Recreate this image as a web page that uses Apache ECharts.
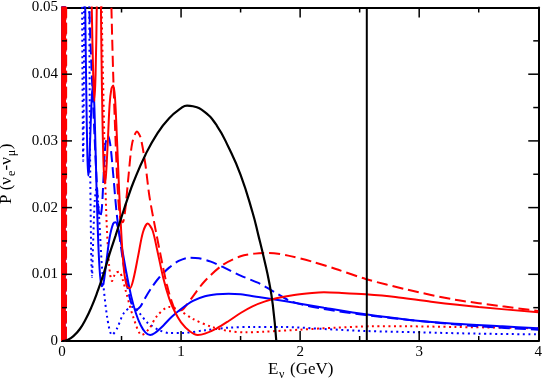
<!DOCTYPE html>
<html>
<head>
<meta charset="utf-8">
<script src="https://cdn.jsdelivr.net/npm/echarts@6/dist/echarts.min.js"></script>
<style>
  html, body { margin: 0; padding: 0; background: #fff; }
  #chart { width: 545px; height: 382px; }
</style>
</head>
<body>
<div id="chart"></div>
<script>
// [E (GeV), P] pairs; values above 0.05 are clipped by the grid
var flux = [[0,0],[0.05,0.0002],[0.1,0.0008],[0.15,0.0018],[0.2,0.0033],[0.25,0.0052],[0.3,0.0075],
  [0.35,0.0101],[0.4,0.0131],[0.45,0.0158],[0.5,0.0186],[0.55,0.0213],[0.6,0.0238],[0.7,0.0279],
  [0.8,0.0311],[0.9,0.0334],[1.0,0.0349],[1.05,0.0353],[1.1,0.0352],[1.2,0.0343],[1.3,0.0323],
  [1.4,0.029],[1.5,0.0249],[1.6,0.0193],[1.65,0.0158],[1.7,0.0121],[1.74,0.0088],[1.77,0.0055],[1.8,0]];

var cutLine = [[2.56,0],[2.56,0.05]];

var blueSolid = [[0,0],[0.005,0.12],[0.009,0],[0.014,0.12],[0.02,0],[0.027,0.12],[0.04,0.3],[0.12,0.3],
  [0.185,0.07],[0.195,0.05],[0.205,0.036],[0.213,0.028],[0.22,0.0248],[0.228,0.026],[0.238,0.031],
  [0.25,0.0365],[0.26,0.0383],[0.27,0.036],[0.28,0.03],[0.29,0.023],[0.305,0.0145],[0.32,0.0098],
  [0.335,0.0082],[0.35,0.0088],[0.37,0.0115],[0.4,0.0155],[0.43,0.0176],[0.45,0.0178],[0.47,0.017],
  [0.5,0.0143],[0.54,0.0103],[0.58,0.0068],[0.62,0.0042],[0.66,0.0024],[0.7,0.0013],[0.74,0.0009],
  [0.78,0.0012],[0.85,0.0023],[0.92,0.0036],[1.0,0.0048],[1.1,0.006],[1.2,0.0067],[1.3,0.007],
  [1.4,0.0071],[1.5,0.007],[1.65,0.0066],[1.76,0.0063],[2.0,0.0056],[2.2,0.005],[2.55,0.004],
  [2.9,0.0032],[3.3,0.0026],[3.7,0.0022],[4.0,0.0019]];

var blueDashed = [[0,0.1],[0.006,0],[0.011,0.12],[0.017,0],[0.023,0.12],[0.03,0],[0.04,0.3],[0.13,0.3],
  [0.215,0.07],[0.23,0.05],[0.25,0.04],[0.27,0.032],[0.29,0.0245],[0.305,0.02],[0.32,0.0186],
  [0.335,0.02],[0.35,0.025],[0.365,0.0295],[0.385,0.0308],[0.405,0.0295],[0.43,0.025],[0.46,0.019],
  [0.5,0.0135],[0.54,0.009],[0.58,0.0058],[0.62,0.0047],[0.66,0.0052],[0.7,0.0065],[0.76,0.0082],
  [0.82,0.0096],[0.9,0.011],[0.98,0.012],[1.07,0.0125],[1.15,0.0124],[1.25,0.0119],[1.35,0.0111],
  [1.5,0.0098],[1.65,0.0087],[1.76,0.0076],[1.93,0.0059],[2.2,0.0048],[2.55,0.0039],[3.0,0.003],
  [3.5,0.0022],[4.0,0.0017]];

var blueDotted = [[0,0.1],[0.007,0],[0.012,0.12],[0.018,0],[0.025,0.12],[0.035,0.3],[0.12,0.3],
  [0.165,0.07],[0.172,0.04],[0.178,0.027],[0.184,0.04],[0.19,0.07],[0.2,0.3],
  [0.225,0.07],[0.235,0.03],[0.245,0.0135],[0.252,0.0096],[0.26,0.014],[0.275,0.021],[0.29,0.023],
  [0.31,0.019],[0.34,0.01],[0.38,0.0035],[0.42,0.0009],[0.46,0.0018],[0.52,0.0042],[0.59,0.0051],
  [0.65,0.0042],[0.72,0.0027],[0.82,0.0016],[0.9,0.0012],[1.0,0.0012],[1.2,0.0016],[1.4,0.002],
  [1.6,0.0021],[1.85,0.0021],[2.2,0.0018],[2.55,0.0015],[3.0,0.0013],[3.5,0.0011],[4.0,0.001]];

var redSolid = [[0,0],[0.004,0.12],[0.01,0],[0.016,0.12],[0.023,0],[0.03,0.12],[0.045,0.3],[0.15,0.3],
  [0.235,0.07],[0.25,0.05],[0.262,0.04],[0.272,0.036],[0.282,0.04],[0.292,0.05],[0.3,0.07],[0.31,0.09],
  [0.322,0.06],[0.33,0.045],[0.34,0.033],[0.35,0.026],[0.36,0.0236],[0.37,0.025],[0.385,0.03],
  [0.4,0.0355],[0.415,0.0378],[0.43,0.0383],[0.445,0.0365],[0.46,0.031],[0.48,0.0225],[0.5,0.0155],
  [0.52,0.0107],[0.545,0.0082],[0.57,0.0079],[0.6,0.0093],[0.64,0.0128],[0.68,0.0163],[0.72,0.0176],
  [0.76,0.0166],[0.8,0.0136],[0.85,0.0095],[0.9,0.0064],[0.95,0.0043],[1.0,0.0028],[1.07,0.0015],
  [1.14,0.0009],[1.2,0.0011],[1.3,0.0019],[1.4,0.003],[1.5,0.0042],[1.6,0.0052],[1.7,0.0059],
  [1.8,0.0064],[1.95,0.0069],[2.1,0.0072],[2.2,0.0073],[2.35,0.0072],[2.55,0.007],[2.8,0.0066],
  [3.1,0.0059],[3.5,0.0051],[4.0,0.0043]];

var redDashed = [[0,0.1],[0.005,0],[0.011,0.12],[0.018,0],[0.025,0.12],[0.033,0],[0.045,0.3],[0.3,0.3],
  [0.39,0.08],[0.405,0.058],[0.415,0.05],[0.43,0.04],[0.45,0.03],[0.47,0.022],[0.49,0.0183],
  [0.51,0.0178],[0.53,0.0195],[0.56,0.025],[0.59,0.0297],[0.63,0.0314],[0.66,0.0305],[0.7,0.0265],
  [0.735,0.0216],[0.79,0.0163],[0.84,0.0118],[0.88,0.0085],[0.92,0.006],[0.96,0.0046],[1.0,0.0046],
  [1.05,0.0055],[1.1,0.0067],[1.2,0.009],[1.35,0.0114],[1.5,0.0127],[1.62,0.0131],[1.74,0.0132],
  [1.9,0.0128],[2.1,0.0119],[2.3,0.0108],[2.55,0.0093],[2.9,0.0077],[3.3,0.0062],[3.7,0.0052],
  [4.0,0.0045]];

var redDotted = [[0,0.1],[0.006,0],[0.012,0.12],[0.019,0],[0.027,0.12],[0.04,0.3],[0.27,0.3],
  [0.33,0.055],[0.35,0.035],[0.37,0.02],[0.395,0.0115],[0.42,0.009],[0.45,0.0102],[0.48,0.0104],
  [0.51,0.0092],[0.54,0.0072],[0.6,0.0035],[0.67,0.0009],[0.73,0.0018],[0.8,0.0038],[0.9,0.0051],
  [0.985,0.0046],[1.1,0.0033],[1.26,0.0021],[1.4,0.0015],[1.54,0.0013],[1.7,0.0014],[2.0,0.0017],
  [2.3,0.002],[2.6,0.0022],[2.9,0.0022],[3.3,0.0021],[3.7,0.002],[4.0,0.0019]];

var xTicks = [0, 4, 1];      // min, max, step
var yTicks = [0, 0.05, 0.01];

var FONT = '"Liberation Serif", "Times New Roman", serif';

// tick values at half steps; second field marks the major ones
var xTickData = [], yTickData = [];
for (var i = 1; i < Math.round((xTicks[1] - xTicks[0]) / xTicks[2] * 2); i++) {
  xTickData.push([xTicks[0] + i * xTicks[2] / 2, i % 2 === 0 ? 1 : 0]);
}
for (var j = 1; j < Math.round((yTicks[1] - yTicks[0]) / yTicks[2] * 2); j++) {
  yTickData.push([xTicks[0], +(yTicks[0] + j * yTicks[2] / 2).toFixed(4), j % 2 === 0 ? 1 : 0]);
}

function axisOpts(pos, t, labels) {
  return {
    type: 'value', position: pos, min: t[0], max: t[1], interval: t[2],
    axisLine: { show: true, onZero: false, lineStyle: { color: '#000', width: 2 } },
    axisTick: { show: false },
    minorTick: { show: false },
    splitLine: { show: false },
    axisLabel: { show: labels, color: '#000', fontFamily: FONT, fontSize: 15, margin: 4 }
  };
}

function curve(data, color, type, width, sm) {
  return {
    type: 'line', data: data, showSymbol: false, symbol: 'none',
    smooth: sm, clip: true, silent: true,
    lineStyle: { color: color, width: width || 2, type: type }
  };
}

function seg(a, b) {
  return { type: 'line', shape: { x1: a[0], y1: a[1], x2: b[0], y2: b[1] },
    style: { stroke: '#000', lineWidth: 1.5 } };
}

// inward ticks on the four sides, drawn through the axis scale
var xTickSeries = {
  type: 'custom', coordinateSystem: 'cartesian2d', silent: true, clip: false, z: 5,
  data: xTickData,
  renderItem: function (params, api) {
    var v = api.value(0), len = api.value(1) ? 10 : 5;
    var b = api.coord([v, yTicks[0]]), t = api.coord([v, yTicks[1]]);
    return { type: 'group', children: [
      seg(b, [b[0], b[1] - len]),
      seg(t, [t[0], t[1] + len])
    ] };
  }
};
var yTickSeries = {
  type: 'custom', coordinateSystem: 'cartesian2d', silent: true, clip: false, z: 5,
  data: yTickData, encode: { x: 0, y: 1 },
  renderItem: function (params, api) {
    var v = api.value(1), len = api.value(2) ? 10 : 5;
    var l = api.coord([xTicks[0], v]), r = api.coord([xTicks[1], v]);
    return { type: 'group', children: [
      seg(l, [l[0] + len, l[1]]),
      seg(r, [r[0] - len, r[1]])
    ] };
  }
};

var chart = echarts.init(document.getElementById('chart'), null, { renderer: 'canvas' });
chart.setOption({
  animation: false,
  backgroundColor: '#fff',
  grid: { left: 62, right: 4, top: 7, bottom: 41, containLabel: false },
  xAxis: [axisOpts('bottom', xTicks, true), axisOpts('top', xTicks, false)],
  yAxis: [axisOpts('left', yTicks, true), axisOpts('right', yTicks, false)],
  series: [
    curve(blueDotted, '#0000ff', [2, 3.5], 2, 0.3),
    curve(redDotted, '#ff0000', [2, 3.5], 2, 0.3),
    curve(blueDashed, '#0000ff', [11, 5], 2, 0.3),
    curve(redDashed, '#ff0000', [11, 5], 2, 0.3),
    curve(blueSolid, '#0000ff', 'solid', 2, 0.3),
    curve(redSolid, '#ff0000', 'solid', 2, 0.3),
    curve(flux, '#000000', 'solid', 2.2, 0.5),
    { type: 'line', data: cutLine, showSymbol: false, symbol: 'none', silent: true,
      lineStyle: { color: '#000', width: 2 } },
    xTickSeries,
    yTickSeries
  ],
  graphic: [
    { type: 'text', x: 268, y: 370, style: { text: 'E', font: '17px "Liberation Serif"', fill: '#000', verticalAlign: 'middle' } },
    { type: 'text', x: 279, y: 375, style: { text: 'ν', font: '12px "Liberation Serif"', fill: '#000', verticalAlign: 'middle' } },
    { type: 'text', x: 290, y: 370, style: { text: '(GeV)', font: '17px "Liberation Serif"', fill: '#000', verticalAlign: 'middle' } },
    { type: 'group', x: 7, y: 204, rotation: Math.PI / 2, children: [
      { type: 'text', x: 0, y: 0, style: { text: 'P (ν', font: '17px "Liberation Serif"', fill: '#000', verticalAlign: 'middle' } },
      { type: 'text', x: 28, y: 5, style: { text: 'e', font: '12px "Liberation Serif"', fill: '#000', verticalAlign: 'middle' } },
      { type: 'text', x: 33.5, y: 0, style: { text: '-ν', font: '17px "Liberation Serif"', fill: '#000', verticalAlign: 'middle' } },
      { type: 'text', x: 47.8, y: 5, style: { text: 'μ', font: '12px "Liberation Serif"', fill: '#000', verticalAlign: 'middle' } },
      { type: 'text', x: 54.8, y: 0, style: { text: ')', font: '17px "Liberation Serif"', fill: '#000', verticalAlign: 'middle' } }
    ] }
  ]
});
</script>
</body>
</html>
